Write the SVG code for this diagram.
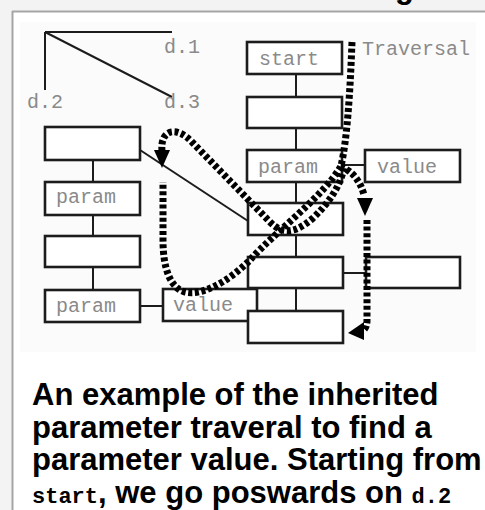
<svg xmlns="http://www.w3.org/2000/svg" width="485" height="510" viewBox="0 0 485 510">
<style>
.box{fill:#fff;stroke:#1c1c1c;stroke-width:2.6}
.ln{fill:none;stroke:#1c1c1c;stroke-width:2}
.lbl{font-family:"Liberation Mono","DejaVu Sans Mono",monospace;font-size:20px;fill:#8a8a8a}
.trav{fill:none;stroke:#000;stroke-width:7;stroke-dasharray:4 2.6}
.ah{fill:#000}
.cap{font-family:"Liberation Sans",Arial,sans-serif;font-weight:bold;font-size:31px;fill:#000}
.capm{font-family:"Liberation Mono","DejaVu Sans Mono",monospace;font-weight:bold;font-size:22px}
</style>
<rect x="0" y="0" width="485" height="510" fill="#f3f3f3"/>
<rect x="13" y="12" width="472" height="498" fill="#fff"/>
<path d="M12,11.5 H485 M12.5,11 V510" stroke="#a6a6a6" stroke-width="2" fill="none"/>
<rect x="20" y="22" width="456" height="330" fill="#fbfbfb"/>
<text class="cap" x="395" y="-2">g</text>

<g id="dims">
<path class="ln" d="M45,32 H172 M45,32 V90 M45,32 L172,97"/>
<text class="lbl" x="164" y="53">d.1</text>
<text class="lbl" x="27" y="108">d.2</text>
<text class="lbl" x="164" y="108">d.3</text>
</g>

<g id="connectors">
<path class="ln" d="M296,74 V97 M296,128 V150 M296,182 V203 M296,235 V257 M296,288 V311"/>
<path class="ln" d="M342,165 H365 M343,273 H366"/>
<path class="ln" d="M93,160 V182 M93,215 V236 M93,267 V290"/>
<path class="ln" d="M140,306 H163"/>
<path class="ln" d="M140,150 L248,221"/>
</g>

<g id="left1"><rect class="box" x="45" y="127" width="95" height="33"/></g>
<g id="left2"><rect class="box" x="45" y="182" width="95" height="33"/><text class="lbl" x="56" y="203">param</text></g>
<g id="left3"><rect class="box" x="45" y="236" width="95" height="31"/></g>
<g id="left4"><rect class="box" x="45" y="290" width="95" height="32"/><text class="lbl" x="56" y="312">param</text></g>
<g id="left4v"><rect class="box" x="163" y="289" width="94" height="32"/><text class="lbl" x="173" y="311">value</text></g>

<g id="r1"><rect class="box" x="247" y="42" width="95" height="32"/><text class="lbl" x="259" y="65">start</text></g>
<g id="r2"><rect class="box" x="247" y="97" width="95" height="31"/></g>
<g id="r3"><rect class="box" x="247" y="150" width="95" height="32"/><text class="lbl" x="258" y="173">param</text></g>
<g id="r3v"><rect class="box" x="365" y="150" width="95" height="32"/><text class="lbl" x="377" y="173">value</text></g>
<g id="r4"><rect class="box" x="248" y="203" width="95" height="32"/></g>
<g id="r5"><rect class="box" x="248" y="257" width="95" height="31"/></g>
<g id="r5r"><rect class="box" x="366" y="257" width="94" height="31"/></g>
<g id="r6"><rect class="box" x="248" y="311" width="95" height="32"/></g>

<g id="traversal">
<text class="lbl" x="362" y="55" fill="#777">Traversal</text>
<path class="trav" d="M352,42 C350,95 347,140 341,166 C325,195 275,232 250,260 C228,282 202,296 185,292 C170,288 163,268 163,240 L163,182"/>
<path class="trav" d="M162,151 C160,130 176,125 192,142 L270,222 C284,236 296,232 312,219 C330,202 340,186 344,168 C352,172 360,180 364,195"/>
<path class="trav" d="M367,220 L367,320 C367,328 364,331 360,331"/>
<polygon class="ah" points="154,150 170,150 162,168"/>
<polygon class="ah" points="357,198 373,198 365,216"/>
<polygon class="ah" points="364,322 364,340 348,333"/>
</g>

<g id="caption">
<text class="cap" x="32" y="405">An example of the inherited</text>
<text class="cap" x="32" y="438">parameter traveral to find a</text>
<text class="cap" x="32" y="470">parameter value. Starting from</text>
<text class="cap" x="32" y="503"><tspan class="capm">start</tspan>, we go poswards on <tspan class="capm">d.2</tspan></text>
</g>
</svg>
